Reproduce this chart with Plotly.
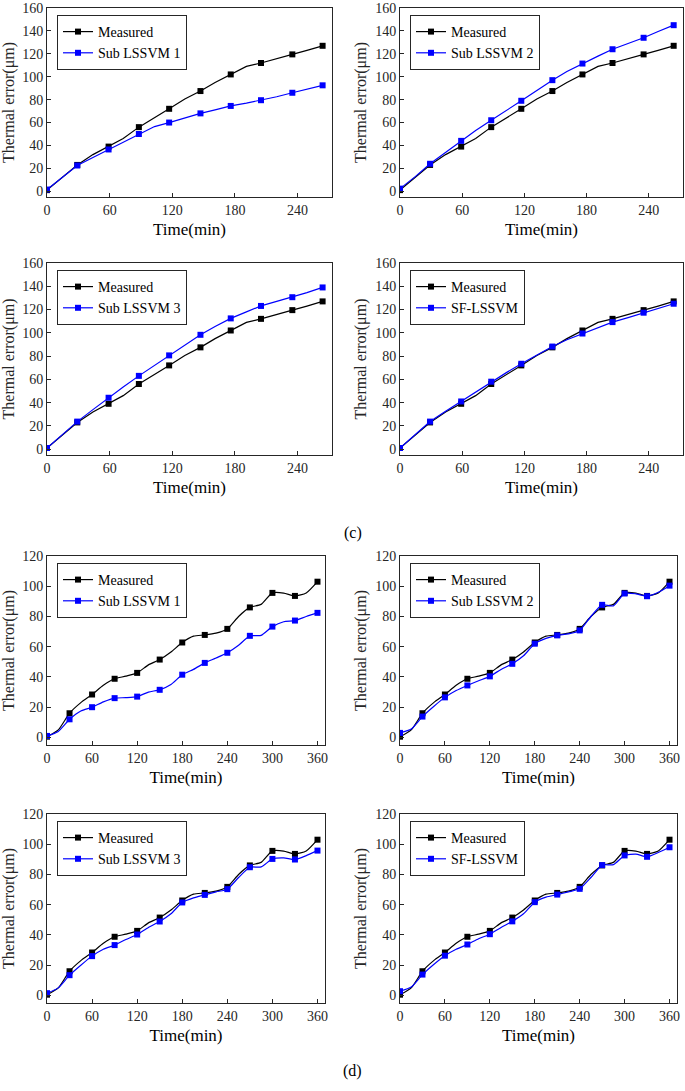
import plotly.graph_objects as go

# ---------------- data (c): 0-264 min ----------------
tc = [0, 15, 29, 44, 59, 73, 88, 103, 117, 132, 147, 161, 176, 191, 205, 220, 235, 249, 264]
c_measured = [1, 12, 23, 32, 39, 46, 56, 64, 72, 80.5, 87.5, 95, 102, 109, 112, 116, 119.5, 123, 127]
c_sub1 = [1.5, 12.5, 22.5, 29.5, 36.5, 43, 50, 56.5, 60, 64, 68, 71, 74.5, 77, 79.5, 82.5, 86, 89, 92.5]
c_sub2 = [2.3, 13, 24, 34, 44, 53, 62, 70.5, 79, 88, 97, 104.5, 111.5, 118, 124, 129, 134, 139.5, 145]
c_sub3 = [1, 12.5, 23.7, 34, 44.2, 53.5, 63, 72, 80.6, 89.5, 98.3, 105.5, 112.4, 118, 123.1, 127, 130.6, 134.5, 139]
c_sf = [1, 12.5, 23.7, 32.5, 41, 49.5, 58, 66, 73.4, 81, 88.2, 94, 99.4, 104.5, 109.2, 113, 117.3, 121, 125]

# ---------------- data (d): 0-360 min ----------------
td = [0, 15, 30, 45, 60, 75, 90, 105, 120, 135, 150, 165, 180, 195, 210, 225, 240, 255, 270, 285, 300, 315, 330, 345, 360]
d_measured = [0.5, 5, 16, 23, 28.4, 34.5, 38.8, 40.5, 42.7, 48, 51.5, 56.5, 62.8, 67, 67.8, 69, 71.8, 80, 86, 88, 95.6, 95.5, 93.6, 95.5, 103]
d_sub1 = [1, 4, 12, 17.5, 20, 23.5, 26, 26.3, 27, 30, 31.5, 35, 41.5, 45, 49.3, 52.5, 56, 61, 67.2, 67.5, 73.3, 76.5, 77.3, 80, 82.4]
d_sub2 = [3, 5.5, 13.8, 20.5, 26.5, 31, 34.4, 37.5, 40.4, 45, 48.7, 54, 62, 65.5, 67.5, 68.5, 70.8, 80, 87.7, 87, 95.2, 95, 93.4, 96, 100.4]
d_sub3 = [1.5, 5, 13.4, 20, 26, 30.5, 33.3, 37, 40.3, 45, 48.9, 54, 61.5, 64.5, 66.5, 68.5, 70.3, 78, 84.8, 85, 90.3, 91, 89.9, 92.5, 95.8]
d_sf = [2.8, 5.5, 13.8, 20.5, 26.3, 30.5, 33.7, 37.5, 40.5, 45, 49, 54, 61.7, 65, 66.7, 68.5, 70.5, 78, 86.2, 86.5, 92.6, 93.5, 91.7, 94.5, 98]

c_ticks = [0, 60, 120, 180, 240]
c_yticks = [0, 20, 40, 60, 80, 100, 120, 140, 160]
d_ticks = [0, 60, 120, 180, 240, 300, 360]
d_yticks = [0, 20, 40, 60, 80, 100, 120]

W, H = 685, 1091
FONT = "Liberation Serif, Times New Roman, serif"
GRAY = "#262626"

# panel boxes in pixels: (left, top, right, bottom)
panels = [
    dict(box=(47, 8, 332, 197), t=tc, m=c_measured, p=c_sub1, name="Sub LSSVM 1", xr=[0, 273], yr=[-5, 160], xt=c_ticks, yt=c_yticks, spline=False),
    dict(box=(400, 8, 683, 197), t=tc, m=c_measured, p=c_sub2, name="Sub LSSVM 2", xr=[0, 273], yr=[-5, 160], xt=c_ticks, yt=c_yticks, spline=False),
    dict(box=(47, 263, 332, 455), t=tc, m=c_measured, p=c_sub3, name="Sub LSSVM 3", xr=[0, 273], yr=[-5, 160], xt=c_ticks, yt=c_yticks, spline=False),
    dict(box=(400, 263, 683, 455), t=tc, m=c_measured, p=c_sf, name="SF-LSSVM", xr=[0, 273], yr=[-5, 160], xt=c_ticks, yt=c_yticks, spline=False),
    dict(box=(47, 556, 325, 745), t=td, m=d_measured, p=d_sub1, name="Sub LSSVM 1", xr=[0, 370], yr=[-5, 120], xt=d_ticks, yt=d_yticks, spline=True),
    dict(box=(400, 556, 677, 745), t=td, m=d_measured, p=d_sub2, name="Sub LSSVM 2", xr=[0, 370], yr=[-5, 120], xt=d_ticks, yt=d_yticks, spline=True),
    dict(box=(47, 814, 325, 1003), t=td, m=d_measured, p=d_sub3, name="Sub LSSVM 3", xr=[0, 370], yr=[-5, 120], xt=d_ticks, yt=d_yticks, spline=True),
    dict(box=(400, 814, 677, 1003), t=td, m=d_measured, p=d_sf, name="SF-LSSVM", xr=[0, 370], yr=[-5, 120], xt=d_ticks, yt=d_yticks, spline=True),
]

fig = go.Figure()
layout = dict(width=W, height=H, margin=dict(l=0, r=0, t=0, b=0),
              paper_bgcolor="white", plot_bgcolor="white",
              font=dict(family=FONT, size=14, color=GRAY), annotations=[])

for i, pnl in enumerate(panels):
    k = i + 1
    sfx = "" if k == 1 else str(k)
    l, t, r, b = pnl["box"]
    xa, ya = "x" + sfx, "y" + sfx
    lg = "legend" + sfx
    shape = "spline" if pnl["spline"] else "linear"

    for y, col, nm in [(pnl["m"], "black", "Measured"), (pnl["p"], "#0000FF", pnl["name"])]:
        # line through all points
        fig.add_trace(go.Scatter(x=pnl["t"], y=y, mode="lines", xaxis=xa, yaxis=ya,
                                 line=dict(color=col, width=1.2, shape=shape, smoothing=0.6),
                                 showlegend=False, hoverinfo="skip"))
        # square markers every 30 min
        fig.add_trace(go.Scatter(x=pnl["t"][::2], y=y[::2], mode="markers", xaxis=xa, yaxis=ya,
                                 marker=dict(symbol="square", size=6, color=col),
                                 showlegend=False))
        # legend entry
        fig.add_trace(go.Scatter(x=[None], y=[None], mode="lines+markers", xaxis=xa, yaxis=ya,
                                 name=nm, legend=lg,
                                 line=dict(color=col, width=1.2),
                                 marker=dict(symbol="square", size=6, color=col)))

    axcommon = dict(showgrid=False, zeroline=False, showline=True, mirror=True,
                    linecolor=GRAY, linewidth=1, ticks="inside", ticklen=4,
                    tickcolor=GRAY, tickfont=dict(family=FONT, size=14, color=GRAY),
                    automargin=False, ticklabeloverflow="allow")
    layout["xaxis" + sfx] = dict(axcommon, domain=[l / W, r / W], anchor=ya,
                                 range=pnl["xr"], tickvals=pnl["xt"],
                                 title=dict(text="Time(min)", font=dict(family=FONT, size=17, color="black"), standoff=6))
    layout["yaxis" + sfx] = dict(axcommon, domain=[1 - b / H, 1 - t / H], anchor=xa,
                                 range=pnl["yr"], tickvals=pnl["yt"],
                                 title=dict(text="Thermal error(μm)", font=dict(family=FONT, size=16, color=GRAY), standoff=4))
    layout[lg] = dict(x=(l + 10) / W, y=1 - (t + 7) / H, xanchor="left", yanchor="top",
                      bgcolor="white", bordercolor=GRAY, borderwidth=1,
                      font=dict(family=FONT, size=14, color="black"),
                      tracegroupgap=0, itemwidth=30)

layout["annotations"] = [
    dict(text="(c)", x=353 / W, y=1 - 533 / H, xref="paper", yref="paper", showarrow=False,
         font=dict(family=FONT, size=16, color="black")),
    dict(text="(d)", x=353 / W, y=1 - 1082 / H, xref="paper", yref="paper", showarrow=False,
         font=dict(family=FONT, size=16, color="black")),
]

fig.update_layout(**layout)
# the page's default 8px body margin would push the figure off the window
fig.write_html("out.html", config={"displayModeBar": False},
               post_script="document.body.style.margin='0';")
